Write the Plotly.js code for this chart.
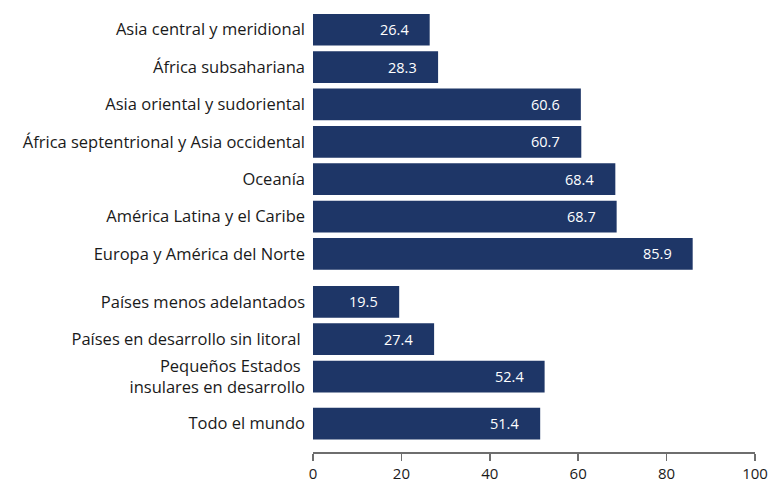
<!DOCTYPE html>
<html>
<head>
<meta charset="utf-8">
<script src="https://cdn.plot.ly/plotly-3.0.1.min.js"></script>
<style>
  html, body { margin: 0; padding: 0; background: #fff; }
  #chart { width: 769px; height: 481px; }
</style>
</head>
<body>
<div id="chart"></div>
<script>
// Regions and country groups, top to bottom
var categories = [
  'Asia central y meridional',
  'África subsahariana',
  'Asia oriental y sudoriental',
  'África septentrional y Asia occidental',
  'Oceanía',
  'América Latina y el Caribe',
  'Europa y América del Norte',
  'Países menos adelantados',
  'Países en desarrollo sin litoral ',
  'Pequeños Estados <br>insulares en desarrollo',
  'Todo el mundo'
];

// Percentage values
var values = [26.4, 28.3, 60.6, 60.7, 68.4, 68.7, 85.9, 19.5, 27.4, 52.4, 51.4];

// X axis ticks
var xTicks = [0, 20, 40, 60, 80, 100];

// Row slots on the y axis: regions, then groups, then the world total,
// with a small extra gap separating each block
var rowSlots = [0, 1, 2, 3, 4, 5, 6, 7.28, 8.28, 9.28, 10.54];

var barColor = '#1e3667';
var fontFamily = '"Open Sans", "Noto Sans", sans-serif';

var trace = {
  type: 'bar',
  orientation: 'h',
  x: values,
  y: rowSlots,
  width: 0.85,
  marker: { color: barColor },
  hoverinfo: 'skip'
};

// Value labels placed just inside the end of each bar
var annotations = values.map(function (v, i) {
  return {
    x: v,
    y: rowSlots[i],
    xref: 'x',
    yref: 'y',
    text: v.toFixed(1),
    showarrow: false,
    xanchor: 'right',
    yanchor: 'middle',
    xshift: -19,
    font: { family: fontFamily, size: 14.5, color: '#ffffff' }
  };
});

var layout = {
  width: 769,
  height: 481,
  margin: { l: 313, r: 14, t: 14, b: 29 },
  paper_bgcolor: '#ffffff',
  plot_bgcolor: '#ffffff',
  showlegend: false,
  font: { family: fontFamily, size: 16.5, color: '#1a1a1a' },
  xaxis: {
    range: [0, 100],
    tickvals: xTicks,
    ticktext: xTicks.map(String),
    showgrid: false,
    zeroline: false,
    showline: true,
    linecolor: '#6e6e6e',
    linewidth: 1.5,
    ticks: 'outside',
    ticklen: 7,
    tickwidth: 1.5,
    tickcolor: '#6e6e6e',
    tickfont: { family: fontFamily, size: 15, color: '#1a1a1a' },
    fixedrange: true
  },
  yaxis: {
    range: [11.30, -0.42],
    autorange: false,
    tickvals: rowSlots,
    ticktext: categories,
    showgrid: false,
    zeroline: false,
    showline: false,
    ticks: '',
    ticklabelstandoff: 7,
    tickfont: { family: fontFamily, size: 16.5, color: '#1a1a1a' },
    fixedrange: true
  },
  annotations: annotations
};

Plotly.newPlot('chart', [trace], layout, { displayModeBar: false, staticPlot: true });
</script>
</body>
</html>
